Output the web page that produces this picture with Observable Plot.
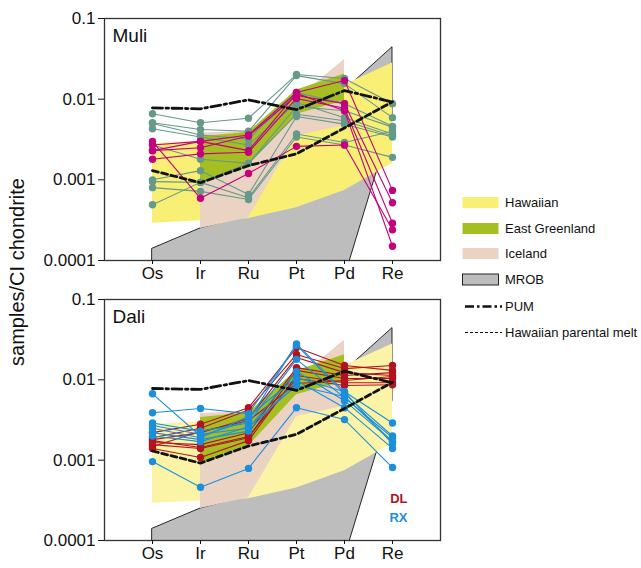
<!DOCTYPE html>
<html>
<head>
<meta charset="utf-8">
<script src="https://cdn.jsdelivr.net/npm/d3@7"></script>
<script src="https://cdn.jsdelivr.net/npm/@observablehq/plot@0.6"></script>
<style>
  body { margin: 0; background: #fff; }
  #chart { position: relative; width: 641px; height: 568px; font-family: "Liberation Sans", Arial, sans-serif; }
  #chart > svg { position: absolute; left: 0; }
</style>
</head>
<body>
<div id="chart"></div>
<script>
// ---- categories and ticks ----
const elements = ["Os", "Ir", "Ru", "Pt", "Pd", "Re"];
const fieldElements = ["Ir", "Ru", "Pt", "Pd"];
const yTicks = [0.1, 0.01, 0.001, 0.0001];

// ---- reference fields (CI-normalised) ----
const hawaiianHigh = [0.0028, 0.003, 0.004, 0.009, 0.015, 0.028];
const hawaiianLow  = [0.00029, 0.00031, 0.00033, 0.00045, 0.00074, 0.0016];
const greenlandHigh = [0.0034, 0.0039, 0.013, 0.0205];
const greenlandLow  = [0.0009, 0.0015, 0.0065, 0.0095];
const icelandHigh = [0.0038, 0.004, 0.010, 0.031];
const icelandLow  = [0.00025, 0.00034, 0.0035, 0.0047];
const mrobHigh = [0.00014, 0.00025, 0.00036, 0.0006, 0.0128, 0.044];
const mrobLow  = [0.00001, 0.00001, 0.00001, 0.00001, 0.00006, 0.0055];
const pum = [0.0078, 0.0076, 0.0098, 0.0074, 0.0128, 0.0092];
const hawaiianParental = [0.0013, 0.00092, 0.0015, 0.0021, 0.0044, 0.0093];

// ---- Muli samples (Os, Ir, Ru, Pt, Pd, Re) ----
const muliSetA = [
  [0.0066, 0.0051, 0.0058, 0.0202, 0.018, 0.0088],
  [0.0051, 0.0042, 0.0040, 0.0196, 0.0156, 0.0059],
  [0.0050, 0.0036, 0.0032, 0.0121, 0.0088, 0.0046],
  [0.0043, 0.0034, 0.0027, 0.0091, 0.0059, 0.0037],
  [0.0027, 0.0018, 0.0016, 0.0065, 0.0054, 0.0035],
  [0.0010, 0.0013, 0.00066, 0.0061, 0.0049, 0.0034],
  [0.00095, 0.00093, 0.0006, 0.0037, 0.0029, 0.0040],
  [0.0008, 0.00072, 0.00057, 0.0034, 0.0027, 0.0019],
  [0.00049, 0.00093, 0.0016, 0.0081, 0.0072, 0.0045]
];
const muliSetB = [
  [0.0027, 0.0030, 0.0036, 0.0121, 0.017, 0.00074],
  [0.0023, 0.0025, 0.0035, 0.0111, 0.0088, 0.00052],
  [0.0018, 0.0021, 0.0022, 0.0102, 0.0077, 0.00029],
  [0.0030, 0.00059, 0.0012, 0.0026, 0.0027, 0.00024],
  [0.0023, 0.0030, 0.0023, 0.0118, 0.0072, 0.00015]
];

// ---- Dali samples ----
const daliDL = [
  [0.0022, 0.0028, 0.0045, 0.0252, 0.0151, 0.0131],
  [0.0019, 0.0025, 0.0042, 0.0207, 0.0138, 0.0151],
  [0.0018, 0.0022, 0.0033, 0.019, 0.0123, 0.0113],
  [0.00166, 0.00156, 0.0022, 0.0142, 0.0113, 0.0123],
  [0.00156, 0.0014, 0.0019, 0.0131, 0.0104, 0.0104],
  [0.0014, 0.00108, 0.00175, 0.0113, 0.0092, 0.0092],
  [0.00175, 0.00144, 0.00197, 0.0104, 0.0085, 0.0087],
  [0.00148, 0.00227, 0.0031, 0.009, 0.0098, 0.011]
];
const daliRX = [
  [0.0067, 0.0020, 0.0031, 0.028, 0.0071, 0.0029],
  [0.0039, 0.0044, 0.0038, 0.027, 0.0067, 0.0020],
  [0.0029, 0.0023, 0.0029, 0.018, 0.0060, 0.0019],
  [0.0027, 0.0021, 0.0025, 0.0127, 0.0055, 0.0017],
  [0.0025, 0.0019, 0.0035, 0.0107, 0.0071, 0.0016],
  [0.0022, 0.0018, 0.0023, 0.0098, 0.0045, 0.0014],
  [0.0020, 0.0017, 0.0026, 0.0085, 0.0062, 0.0017],
  [0.00096, 0.00046, 0.00079, 0.0045, 0.0032, 0.00081]
];

// ---- colours ----
const colors = {
  hawaiianMuli: "#f8ef74",
  hawaiianDali: "#fbf4a6",
  greenland: "#a5bf22",
  iceland: "#ebd3c3",
  mrob: "#bdbdbd",
  setA: "#66998a",
  setB: "#c4007c",
  dl: "#b3121f",
  rx: "#1b8fdb"
};

// ---- helpers ----
const band = (cats, lo, hi) => cats.map((el, i) => ({el, lo: lo[i], hi: hi[i]}));
const series = (vals) => elements.map((el, i) => ({el, v: vals[i]}));
const samples = (sets) => sets.flatMap((vals, id) => elements.map((el, i) => ({id, el, v: vals[i]})));

const font = "Liberation Sans, Arial, sans-serif";

function panel({name, groups, yellow, height, marginTop, marginBottom, extra = []}) {
  const sampleMarks = groups.flatMap(({rows, color}) => [
    Plot.line(rows, {x: "el", y: "v", z: "id", stroke: color, strokeWidth: 1.1}),
    Plot.dot(rows, {x: "el", y: "v", fill: color, r: 3.7})
  ]);
  return Plot.plot({
    width: 641,
    height,
    marginLeft: 104,
    marginRight: 201,
    marginTop,
    marginBottom,
    style: {fontFamily: font, color: "#111", background: "transparent", overflow: "visible"},
    x: {type: "point", domain: elements, padding: 1},
    y: {type: "log", domain: [0.0001, 0.1]},
    marks: [
      Plot.areaY(band(elements, mrobLow, mrobHigh), {x: "el", y1: "lo", y2: "hi", fill: colors.mrob, stroke: "#111", strokeWidth: 0.9, clip: true}),
      Plot.areaY(band(elements, hawaiianLow, hawaiianHigh), {x: "el", y1: "lo", y2: "hi", fill: yellow, clip: true}),
      Plot.areaY(band(fieldElements, icelandLow, icelandHigh), {x: "el", y1: "lo", y2: "hi", fill: colors.iceland, clip: true}),
      Plot.areaY(band(fieldElements, greenlandLow, greenlandHigh), {x: "el", y1: "lo", y2: "hi", fill: colors.greenland, clip: true}),
      ...sampleMarks,
      Plot.line(series(pum), {x: "el", y: "v", stroke: "#111", strokeWidth: 2.8, strokeDasharray: "10,3.5,2.5,3.5"}),
      Plot.line(series(hawaiianParental), {x: "el", y: "v", stroke: "#111", strokeWidth: 2.8, strokeDasharray: "6,3.5"}),
      Plot.frame({stroke: "#333", strokeWidth: 1.3}),
      Plot.axisY({ticks: yTicks, tickFormat: d => String(d), tickSize: 6, tickPadding: 3, fontSize: 17, label: null}),
      Plot.axisX({tickSize: 4, tickPadding: 2, fontSize: 17, label: null}),
      Plot.text([name], {frameAnchor: "top-left", dx: 8, dy: 10, lineAnchor: "top", textAnchor: "start", fontSize: 19, fill: "#111"}),
      ...extra
    ]
  });
}

const chart = document.getElementById("chart");

const muli = panel({
  name: "Muli",
  groups: [{rows: samples(muliSetA), color: colors.setA}, {rows: samples(muliSetB), color: colors.setB}],
  yellow: colors.hawaiianMuli,
  height: 290, marginTop: 18, marginBottom: 30
});
muli.style.top = "0px";
chart.appendChild(muli);

const dali = panel({
  name: "Dali",
  groups: [{rows: samples(daliDL), color: colors.dl}, {rows: samples(daliRX), color: colors.rx}],
  yellow: colors.hawaiianDali,
  height: 278, marginTop: 9, marginBottom: 28,
  extra: [
    Plot.text(["DL"], {frameAnchor: "bottom-right", dx: -33, dy: -38, lineAnchor: "bottom", textAnchor: "end", fontSize: 13, fontWeight: "bold", fill: colors.dl}),
    Plot.text(["RX"], {frameAnchor: "bottom-right", dx: -33, dy: -19, lineAnchor: "bottom", textAnchor: "end", fontSize: 13, fontWeight: "bold", fill: colors.rx})
  ]
});
dali.style.top = "290px";
chart.appendChild(dali);

// ---- shared y title and legend ----
const overlay = d3.select(chart).append("svg")
  .attr("width", 641).attr("height", 568)
  .style("top", "0px")
  .style("pointer-events", "none")
  .attr("font-family", font);

overlay.append("text")
  .attr("transform", "translate(24,272) rotate(-90)")
  .attr("text-anchor", "middle")
  .attr("font-size", 20)
  .attr("fill", "#111")
  .text("samples/CI chondrite");

const legendItems = [
  {label: "Hawaiian", type: "box", fill: colors.hawaiianMuli},
  {label: "East Greenland", type: "box", fill: colors.greenland},
  {label: "Iceland", type: "box", fill: colors.iceland},
  {label: "MROB", type: "box", fill: colors.mrob, stroke: "#111"},
  {label: "PUM", type: "line", dash: "9,3,2.5,3", width: 2.6},
  {label: "Hawaiian parental melt", type: "line", dash: "3,2", width: 1.2}
];
const legendY = [202.5, 228.5, 253.5, 279.5, 306.5, 332.5];
const legend = overlay.append("g");
legendItems.forEach((d, i) => {
  const cy = legendY[i];
  if (d.type === "box") {
    legend.append("rect")
      .attr("x", 462.5).attr("y", cy - 5.5).attr("width", 36).attr("height", 11)
      .attr("fill", d.fill)
      .attr("stroke", d.stroke || "none").attr("stroke-width", 0.9);
  } else {
    legend.append("line")
      .attr("x1", 465).attr("x2", 502).attr("y1", cy).attr("y2", cy)
      .attr("stroke", "#111").attr("stroke-width", d.width)
      .attr("stroke-dasharray", d.dash);
  }
  legend.append("text")
    .attr("x", 505).attr("y", cy).attr("dy", "0.35em")
    .attr("font-size", 13).attr("fill", "#111")
    .text(d.label);
});
</script>
</body>
</html>
